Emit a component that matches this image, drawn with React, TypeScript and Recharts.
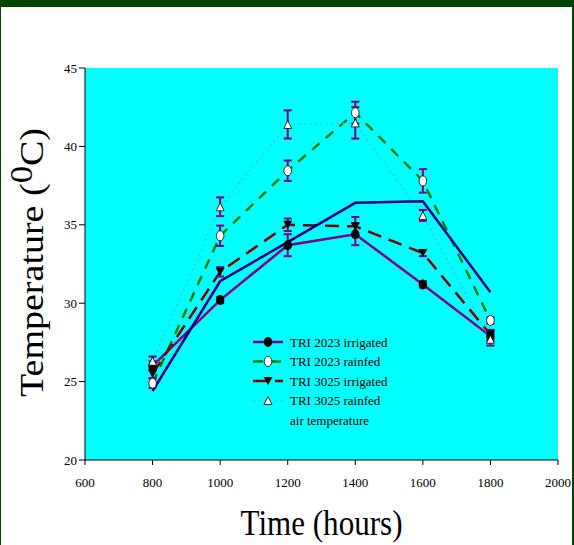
import React from "react";
import {
  ComposedChart,
  Line,
  XAxis,
  YAxis,
  CartesianGrid,
  ErrorBar,
  Label,
} from "recharts";

// Sampling times (hours) and temperatures (°C)
const times = [800, 1000, 1200, 1400, 1600, 1800];

const tri2023Irrigated = [26.0, 30.2, 33.7, 34.4, 31.2, 27.9];
const tri2023Rainfed = [24.9, 34.3, 38.45, 42.15, 37.8, 28.9];
const tri3025Irrigated = [25.5, 32.0, 35.0, 34.9, 33.2, 28.0];
const tri3025Rainfed = [26.3, 36.15, 41.4, 41.5, 35.6, 27.7];
const airTemperature = [24.4, 31.4, 33.9, 36.4, 36.5, 30.7];

// Standard errors
const errTri2023Irrigated = [0.3, 0.2, 0.7, 0.7, 0.2, 0.3];
const errTri2023Rainfed = [0.3, 0.65, 0.65, 0.7, 0.75, 0.2];
const errTri3025Irrigated = [0.3, 0.3, 0.4, 0.6, 0.2, 0.3];
const errTri3025Rainfed = [0.3, 0.6, 0.9, 1.0, 0.35, 0.4];

const xTicks = [600, 800, 1000, 1200, 1400, 1600, 1800, 2000];
const yTicks = [20, 25, 30, 35, 40, 45];

const seriesNames = [
  "TRI 2023 irrigated",
  "TRI 2023 rainfed",
  "TRI 3025 irrigated",
  "TRI 3025 rainfed",
  "air temperature",
];

const rows = times.map((t, i) => ({
  time: t,
  s1: tri2023Irrigated[i],
  s2: tri2023Rainfed[i],
  s3: tri3025Irrigated[i],
  s4: tri3025Rainfed[i],
  s5: airTemperature[i],
  e1: errTri2023Irrigated[i],
  e2: errTri2023Rainfed[i],
  e3: errTri3025Irrigated[i],
  e4: errTri3025Rainfed[i],
}));

const SERIF = "'Liberation Serif', 'Times New Roman', Times, serif";
const PURPLE = "#800080";
const GREEN = "#008000";
const MAROON = "#800000";
const SKY = "#3fb8f0";
const NAVY = "#000080";

type MarkerKind = "dotBlack" | "dotWhite" | "triDown" | "triUp" | "none";

const drawMarker = (kind: MarkerKind, cx: number, cy: number, key?: string) => {
  switch (kind) {
    case "dotBlack":
      return <ellipse key={key} cx={cx} cy={cy} rx={4.2} ry={5} fill="#000" />;
    case "dotWhite":
      return (
        <ellipse key={key} cx={cx} cy={cy} rx={3.8} ry={5} fill="#fff" stroke="#000" strokeWidth={0.8} />
      );
    case "triDown":
      return (
        <polygon
          key={key}
          points={`${cx - 4.5},${cy - 4} ${cx + 4.5},${cy - 4} ${cx},${cy + 4}`}
          fill="#000"
        />
      );
    case "triUp":
      return (
        <polygon
          key={key}
          points={`${cx - 4},${cy + 4} ${cx + 4},${cy + 4} ${cx},${cy - 4}`}
          fill="#fff"
          stroke="#000"
          strokeWidth={0.8}
        />
      );
    default:
      return <g key={key} />;
  }
};

const markerDot = (kind: MarkerKind) => (props: any) =>
  drawMarker(kind, props.cx, props.cy, `${kind}-${props.index}`);

const seriesStyle = [
  { key: "s1", err: "e1", color: PURPLE, width: 2.5, dash: undefined, marker: "dotBlack" as MarkerKind },
  { key: "s2", err: "e2", color: GREEN, width: 2.5, dash: "10 8", marker: "dotWhite" as MarkerKind },
  { key: "s3", err: "e3", color: MAROON, width: 2.5, dash: "14 8", marker: "triDown" as MarkerKind },
  { key: "s4", err: "e4", color: SKY, width: 1.5, dash: "1.5 4", marker: "triUp" as MarkerKind },
  { key: "s5", err: "", color: NAVY, width: 2.5, dash: undefined, marker: "none" as MarkerKind },
];

const LegendBox = () => {
  const rowY = [12, 31.5, 51, 70.5, 90];
  return (
    <svg width={150} height={100} style={{ overflow: "visible", display: "block" }}>
      {seriesNames.map((name, i) => {
        const s = seriesStyle[i];
        const y = rowY[i];
        return (
          <g key={name}>
            {s.marker !== "none" && (
              <>
                <line
                  x1={3}
                  x2={33}
                  y1={y}
                  y2={y}
                  stroke={s.color}
                  strokeWidth={s.width}
                  strokeDasharray={s.dash}
                />
                {drawMarker(s.marker, 18, y)}
              </>
            )}
            <text x={40} y={y + 4.5} fontFamily={SERIF} fontSize={13} fill="#000">
              {name}
            </text>
          </g>
        );
      })}
    </svg>
  );
};

const YTitle = (props: any) => {
  const vb = props.viewBox || { x: 0, y: 68, width: 85, height: 392 };
  const x = vb.x + 43;
  const y = vb.y + vb.height / 2 - 1.5;
  return (
    <text
      x={x}
      y={y}
      transform={`rotate(-90 ${x} ${y})`}
      textAnchor="middle"
      fontFamily={SERIF}
      fontSize={34}
      fill="#000"
      textLength={269}
      lengthAdjust="spacingAndGlyphs"
    >
      Temperature (<tspan dy={-11} fontSize={31}>0</tspan>
      <tspan dy={11}>C)</tspan>
    </text>
  );
};

const XTitle = (props: any) => {
  const vb = props.viewBox || { x: 85, y: 460, width: 473, height: 85 };
  return (
    <text
      x={vb.x + vb.width / 2}
      y={vb.y + 75}
      textAnchor="middle"
      fontFamily={SERIF}
      fontSize={35}
      fill="#000"
      textLength={162}
      lengthAdjust="spacingAndGlyphs"
    >
      Time (hours)
    </text>
  );
};

export default function App() {
  return (
    <div style={{ position: "fixed", left: 0, top: 0, width: 574, height: 545, background: "#fff" }}>
      <div
        style={{
          position: "absolute",
          left: 0,
          top: 0,
          width: 574,
          height: 545,
          boxSizing: "border-box",
          borderTop: "7px solid #004400",
          borderLeft: "1px solid #004400",
          borderRight: "2px solid #004400",
        }}
      />
      <div style={{ position: "absolute", left: 0, top: 0 }}>
        <ComposedChart
          width={574}
          height={545}
          data={rows}
          margin={{ top: 68, right: 16, left: 0, bottom: 0 }}
        >
          <CartesianGrid horizontal={false} vertical={false} fill="#00FFFF" fillOpacity={1} stroke="none" />
          <XAxis
            dataKey="time"
            type="number"
            domain={[600, 2000]}
            ticks={xTicks}
            height={85}
            tickSize={5}
            tickMargin={13}
            axisLine={{ stroke: "#000", strokeWidth: 1 }}
            tickLine={{ stroke: "#000", strokeWidth: 1 }}
            tick={{ fontFamily: SERIF, fontSize: 13, fill: "#000" }}
            interval={0}
          >
            <Label content={XTitle} />
          </XAxis>
          <YAxis
            type="number"
            domain={[20, 45]}
            ticks={yTicks}
            width={85}
            tickSize={6}
            tickMargin={2}
            axisLine={{ stroke: "#000", strokeWidth: 1 }}
            tickLine={{ stroke: "#000", strokeWidth: 1 }}
            tick={{ fontFamily: SERIF, fontSize: 13, fill: "#000" }}
            interval={0}
          >
            <Label content={YTitle} />
          </YAxis>

          {/* series lines */}
          {seriesStyle.map((s) => (
            <Line
              key={`line-${s.key}`}
              dataKey={s.key}
              type="linear"
              stroke={s.color}
              strokeWidth={s.width}
              strokeDasharray={s.dash}
              dot={false}
              activeDot={false}
              isAnimationActive={false}
              legendType="none"
            />
          ))}

          {/* markers with error bars, drawn above every line */}
          {seriesStyle
            .filter((s) => s.marker !== "none")
            .map((s) => (
              <Line
                key={`mark-${s.key}`}
                dataKey={s.key}
                type="linear"
                stroke="none"
                dot={markerDot(s.marker)}
                activeDot={false}
                isAnimationActive={false}
                legendType="none"
              >
                <ErrorBar
                  dataKey={s.err}
                  direction="y"
                  width={4}
                  stroke={PURPLE}
                  strokeWidth={2}
                  isAnimationActive={false}
                />
              </Line>
            ))}
        </ComposedChart>
      </div>
      <div style={{ position: "absolute", left: 250, top: 330, width: 150, height: 100 }}>
        <LegendBox />
      </div>
    </div>
  );
}
